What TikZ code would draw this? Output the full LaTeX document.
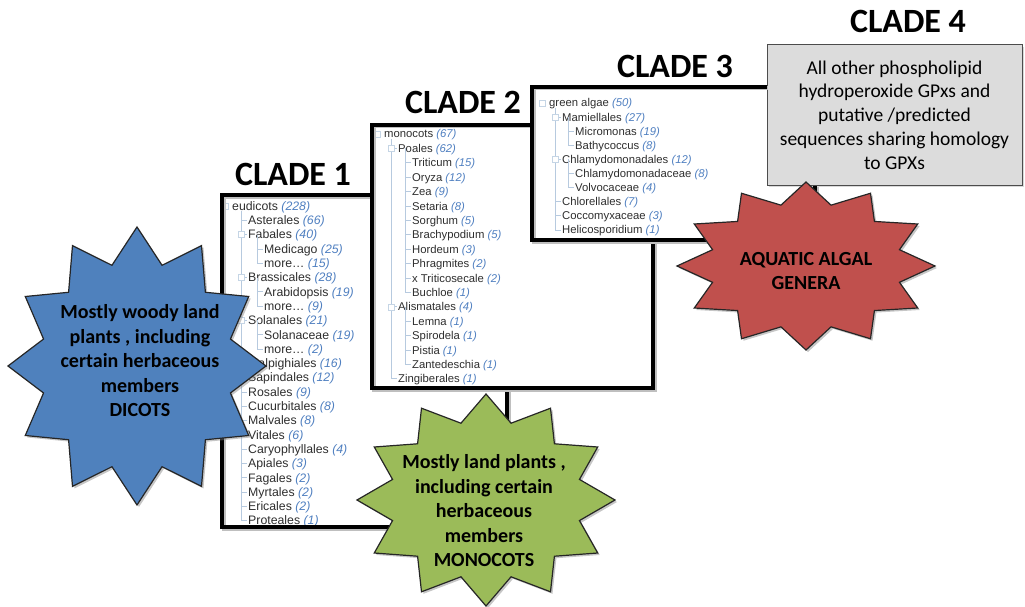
\documentclass[tikz,border=0pt]{standalone}
\usepackage{fontspec}
\setmainfont{Carlito}
\newfontfamily\listfont{Liberation Sans}
\usetikzlibrary{shadows}

\definecolor{dicotblue}{HTML}{4F81BD}
\definecolor{monogreen}{HTML}{9BBB59}
\definecolor{algared}{HTML}{C0504D}
\definecolor{otherbox}{HTML}{DCDCDC}
\definecolor{cntblue}{HTML}{4F7FC0}
\definecolor{treeblue}{HTML}{B7CADF}
\definecolor{listtext}{HTML}{2E2E2E}

% count in a tree row
\newcommand\cnt[1]{{\color{cntblue}\itshape(#1)}}
% twelve point star: centre x, centre y, radius x, radius y, fill, turn
\newcommand\burst[6]{%
  \filldraw[burstline, fill=#5] ({#1+#3*cos(#6)},{#2+#4*sin(#6)})
    \foreach \k in {1,...,23} {-- ({#1+#3*(isodd(\k)?0.75:1)*cos(\k*15+#6)},{#2+#4*(isodd(\k)?0.75:1)*sin(\k*15+#6)})} -- cycle;}

\begin{document}
\begin{tikzpicture}[x=1pt, y=-1pt,
  bracket/.style={line width=4pt, line join=miter,
    preaction={draw=black!25, line width=4pt, transform canvas={xshift=1.5pt, yshift=-1.5pt}}},
  treeline/.style={draw=treeblue, line width=0.8pt},
  treeitem/.style={anchor=base west, inner sep=0pt, text=listtext},
  expbox/.style={draw=treeblue!80, fill=white, line width=0.6pt, minimum size=6pt, inner sep=0pt},
  burstline/.style={draw=black!85, line width=1.2pt, line join=miter,
    drop shadow={shadow xshift=2pt, shadow yshift=-2pt, opacity=.45}},
  bursttext/.style={align=center, text=black, font=\bfseries\fontsize{20}{24.5}\selectfont},
  cladehead/.style={font=\bfseries\fontsize{34}{40}\selectfont, text=black},
  otherstyle/.style={draw=black!70, line width=1pt, fill=otherbox, minimum width=255pt, minimum height=140pt,
    align=center, text=black, font=\fontsize{19.5}{23.7}\selectfont,
    drop shadow={shadow xshift=2pt, shadow yshift=-2pt, opacity=.3}}]
\useasboundingbox (0,0) rectangle (1025,607);

% Clade 1 list
\foreach \lv/\nm/\ct [count=\i from 0] in {0/eudicots/228, 1/Asterales/66, 1/Fabales/40, 2/Medicago/25,
    2/{more\ldots}/15, 1/Brassicales/28, 2/Arabidopsis/19, 2/{more\ldots}/9, 1/Solanales/21, 2/Solanaceae/19,
    2/{more\ldots}/2, 1/Malpighiales/16, 1/Sapindales/12, 1/Rosales/9, 1/Cucurbitales/8, 1/Malvales/8,
    1/Vitales/6, 1/Caryophyllales/4, 1/Apiales/3, 1/Fagales/2, 1/Myrtales/2, 1/Ericales/2, 1/Proteales/1} {
  \coordinate (c1r\i) at ({232+16*\lv},{206+14.3*\i});
  \node[treeitem, font=\listfont\fontsize{12.3}{14}\selectfont] (c1n\i) at ([yshift=-4.3pt]c1r\i) {\nm\ \cnt{\ct}};
  \ifnum\lv>0 \draw[treeline] ([xshift=-7pt]c1r\i) -- ([xshift=-1pt]c1r\i); \fi
}
\draw[treeline] ([xshift=-7pt, yshift=-5pt]c1r1 |- c1r0) -- ([xshift=-7pt]c1r22);
\draw[treeline] ([xshift=-7pt]c1r3 |- c1r2) -- ([xshift=-7pt]c1r4);
\draw[treeline] ([xshift=-7pt]c1r6 |- c1r5) -- ([xshift=-7pt]c1r7);
\draw[treeline] ([xshift=-7pt]c1r9 |- c1r8) -- ([xshift=-7pt]c1r10);
\foreach \p in {0,2,5,8} \node[expbox] (c1b\p) at ([xshift=-7pt]c1r\p) {};

% Clade 2 list
\foreach \lv/\nm/\ct [count=\i from 0] in {0/monocots/67, 1/Poales/62, 2/Triticum/15, 2/Oryza/12, 2/Zea/9,
    2/Setaria/8, 2/Sorghum/5, 2/Brachypodium/5, 2/Hordeum/3, 2/Phragmites/2, 2/x Triticosecale/2, 2/Buchloe/1,
    1/Alismatales/4, 2/Lemna/1, 2/Spirodela/1, 2/Pistia/1, 2/Zantedeschia/1, 1/Zingiberales/1} {
  \coordinate (c2r\i) at ({384+14*\lv},{134+14.4*\i});
  \node[treeitem, font=\listfont\fontsize{11.3}{13}\selectfont] (c2n\i) at ([yshift=-4pt]c2r\i) {\nm\ \cnt{\ct}};
  \ifnum\lv>0 \draw[treeline] ([xshift=-7pt]c2r\i) -- ([xshift=-1pt]c2r\i); \fi
}
\draw[treeline] ([xshift=-7pt, yshift=-5pt]c2r1 |- c2r0) -- ([xshift=-7pt]c2r17);
\draw[treeline] ([xshift=-7pt]c2r2 |- c2r1) -- ([xshift=-7pt]c2r11);
\draw[treeline] ([xshift=-7pt]c2r13 |- c2r12) -- ([xshift=-7pt]c2r16);
\foreach \p in {0,1,12} \node[expbox] (c2b\p) at ([xshift=-7pt]c2r\p) {};

% Clade 3 list
\foreach \lv/\nm/\ct [count=\i from 0] in {0/green algae/50, 1/Mamiellales/27, 2/Micromonas/19, 2/Bathycoccus/8,
    1/Chlamydomonadales/12, 2/Chlamydomonadaceae/8, 2/Volvocaceae/4, 1/Chlorellales/7, 1/Coccomyxaceae/3,
    1/Helicosporidium/1} {
  \coordinate (c3r\i) at ({549+13*\lv},{103+14.1*\i});
  \node[treeitem, font=\listfont\fontsize{11.3}{13}\selectfont] (c3n\i) at ([yshift=-4pt]c3r\i) {\nm\ \cnt{\ct}};
  \ifnum\lv>0 \draw[treeline] ([xshift=-7pt]c3r\i) -- ([xshift=-1pt]c3r\i); \fi
}
\draw[treeline] ([xshift=-7pt, yshift=-5pt]c3r1 |- c3r0) -- ([xshift=-7pt]c3r9);
\draw[treeline] ([xshift=-7pt]c3r2 |- c3r1) -- ([xshift=-7pt]c3r3);
\draw[treeline] ([xshift=-7pt]c3r5 |- c3r4) -- ([xshift=-7pt]c3r6);
\foreach \p in {0,1,4} \node[expbox] (c3b\p) at ([xshift=-7pt]c3r\p) {};

% Clade 4 box
\node[otherstyle] (clade4box) at (894.5,115) {All other phospholipid\\ hydroperoxide GPxs and\\ putative /predicted\\ sequences sharing homology\\ to GPXs};

% bracket corners
\coordinate (c1top) at (222,195);
\coordinate (c1bot) at (222,527);
\coordinate (c2top) at (372,125);
\coordinate (c2bot) at (372,388);
\coordinate (c3top) at (532,87);
\coordinate (c3bot) at (532,240);
\coordinate (c1stem) at (507,388);
\coordinate (c2stem) at (653,240);
\coordinate (c3stem) at (815,240);

% Brackets
\draw[bracket] (c2top |- c1top) -- (c1top) -- (c1bot) -- (c1stem |- c1bot) -- (c1stem);
\draw[bracket] (c3top |- c2top) -- (c2top) -- (c2bot) -- (c2stem |- c2bot) -- (c2stem);
\draw[bracket] (clade4box.west |- c3top) -- (c3top) -- (c3bot) -- (c3stem) -- (c3stem |- clade4box.south);

% Stars
\burst{137}{366}{129}{139}{dicotblue}{0}
\burst{486}{500}{129}{106}{monogreen}{0}
\burst{806}{266}{129}{84}{algared}{0}

\node[bursttext] (dicots) at (140,361) {Mostly woody land\\ plants , including\\ certain herbaceous\\ members\\ DICOTS};
\node[bursttext] (monocots) at (484,511) {Mostly land plants ,\\ including certain\\ herbaceous\\ members\\ MONOCOTS};
\node[bursttext] (algae) at (806,271) {AQUATIC ALGAL\\ GENERA};

% Headings
\node[cladehead] (clade1) at (293,174) {CLADE 1};
\node[cladehead] (clade2) at (463,102) {CLADE 2};
\node[cladehead] (clade3) at (675,66) {CLADE 3};
\node[cladehead] (clade4) at (908,21) {CLADE 4};
\end{tikzpicture}
\end{document}
